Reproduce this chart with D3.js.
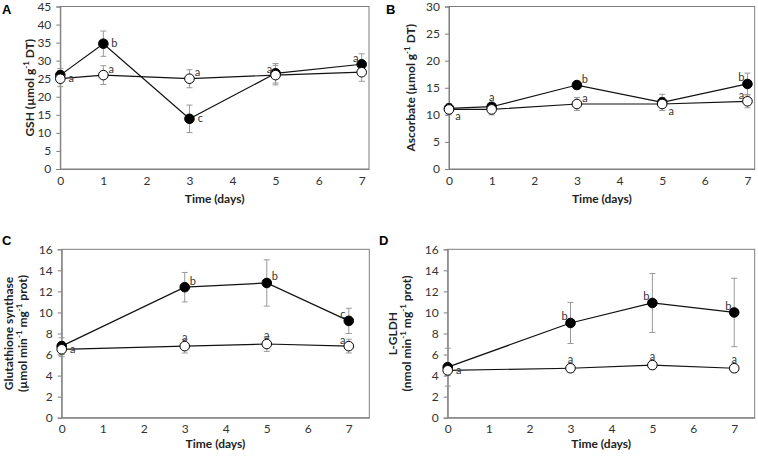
<!DOCTYPE html>
<html><head><meta charset="utf-8">
<script src="https://cdn.jsdelivr.net/npm/d3@7"></script>
<style>
body{margin:0;background:#fff;}
svg{font-family:Lato,"Open Sans",sans-serif;}
</style></head>
<body><svg id="c" width="758" height="456"></svg>
<script>
// ---------- data ----------
const daysAB = [0, 1, 3, 5, 7];
const daysCD = [0, 3, 5, 7];

const gshFilled = [26, 34.7, 13.9, 26.5, 29];
const gshFilledErr = [1.8, 3.5, 3.8, 2.7, 2.9];
const gshOpen = [25, 26, 25, 26, 26.8];
const gshOpenErr = [2.2, 2.6, 2.5, 2.7, 2.5];
const gshFilledLetters = ["", "b", "c", "", "a"];
const gshOpenLetters = ["a", "a", "a", "a", ""];

const ascFilled = [11.2, 11.5, 15.5, 12.3, 15.7];
const ascFilledErr = [0.8, 0.5, 0.6, 1.5, 2.0];
const ascOpen = [11, 11, 12, 12, 12.5];
const ascOpenErr = [1.0, 1.0, 1.2, 1.2, 1.2];
const ascFilledLetters = ["", "a", "b", "", "b"];
const ascOpenLetters = ["a", "", "a", "a", "a"];

const gsFilled = [6.8, 12.4, 12.8, 9.2];
const gsFilledErr = [0.8, 1.4, 2.2, 1.2];
const gsOpen = [6.5, 6.8, 7.0, 6.8];
const gsOpenErr = [0.7, 0.65, 0.7, 0.65];
const gsFilledLetters = ["", "b", "b", "c"];
const gsOpenLetters = ["a", "a", "a", "a"];

const gldhFilled = [4.8, 9.0, 10.9, 10.0];
const gldhFilledErr = [1.8, 1.95, 2.8, 3.25];
const gldhOpen = [4.5, 4.7, 5.0, 4.7];
const gldhOpenErr = [0.5, 0.4, 0.4, 0.4];
const gldhFilledLetters = ["", "b", "b", "b"];
const gldhOpenLetters = ["a", "a", "a", "a"];

const xTicks = [0, 1, 2, 3, 4, 5, 6, 7];
const xLabel = "Time (days)";

// ---------- layout (not data) ----------
const offs = { r:[11,-1], ra:[8,-7], la:[-6,-7], a:[0,-10], rb:[9,6], l:[-10,0] };

const panels = [
  { tag:"A", tagX:2, tagY:14, x0:60.3, x1:369, y0:6.5, y1:169, xMax:7.17, yMax:45, yStep:5,
    days:daysAB, filled:gshFilled, fErr:gshFilledErr, open:gshOpen, oErr:gshOpenErr,
    fLet:gshFilledLetters, oLet:gshOpenLetters,
    fPos:["","r","r","","la"], oPos:["r","ra","ra","la",""],
    ylab:[["GSH (µmol g","-1"," DT)"]], ylabX:[30], xlabY:203 },
  { tag:"B", tagX:386, tagY:14, x0:449, x1:754.7, y0:6.5, y1:169, xMax:7.17, yMax:30, yStep:5,
    days:daysAB, filled:ascFilled, fErr:ascFilledErr, open:ascOpen, oErr:ascOpenErr,
    fLet:ascFilledLetters, oLet:ascOpenLetters,
    fPos:["","a","ra","","la"], oPos:["rb","","ra","rb","la"],
    ylab:[["Ascorbate (µmol g","-1"," DT)"]], ylabX:[411], xlabY:203 },
  { tag:"C", tagX:2, tagY:245, x0:61.7, x1:369.3, y0:249.3, y1:417.7, xMax:7.5, yMax:16, yStep:2,
    days:daysCD, filled:gsFilled, fErr:gsFilledErr, open:gsOpen, oErr:gsOpenErr,
    fLet:gsFilledLetters, oLet:gsOpenLetters,
    fPos:["","ra","ra","la"], oPos:["r","a","a","la"],
    ylab:[["Glutathione synthase"],["(µmol min","-1"," mg","-1"," prot)"]], ylabX:[9,23], xlabY:448 },
  { tag:"D", tagX:379, tagY:245, x0:447.7, x1:754.7, y0:249.3, y1:417.7, xMax:7.5, yMax:16, yStep:2,
    days:daysCD, filled:gldhFilled, fErr:gldhFilledErr, open:gldhOpen, oErr:gldhOpenErr,
    fLet:gldhFilledLetters, oLet:gldhOpenLetters,
    fPos:["","la","la","la"], oPos:["r","a","a","a"],
    ylab:[["L-GLDH"],["(nmol min","-1"," mg","-1"," prot)"]], ylabX:[393,407], xlabY:448 }
];

const svg = d3.select("#c");

panels.forEach(p => {
  const x = d3.scaleLinear().domain([0, p.xMax]).range([p.x0, p.x1]);
  const y = d3.scaleLinear().domain([0, p.yMax]).range([p.y1, p.y0]);
  const g = svg.append("g");

  // frame
  g.append("rect").attr("x", p.x0).attr("y", p.y0).attr("width", p.x1 - p.x0).attr("height", p.y1 - p.y0)
    .attr("fill", "none").attr("stroke", "#7f7f7f").attr("stroke-width", 1);

  // y axis
  const yTicks = d3.range(0, p.yMax + 0.001, p.yStep);
  const ya = g.append("g").attr("transform", `translate(${p.x0},0)`)
    .call(d3.axisLeft(y).tickValues(yTicks).tickSize(4).tickPadding(5).tickFormat(d3.format("d")));
  ya.select(".domain").attr("stroke", "#7f7f7f");
  ya.selectAll("line").attr("stroke", "#7f7f7f");
  ya.selectAll("text").attr("font-size", 12).attr("fill", "#333").attr("font-family", "Lato, sans-serif");

  // x axis
  const xa = g.append("g").attr("transform", `translate(0,${p.y1})`)
    .call(d3.axisBottom(x).tickValues(xTicks).tickSize(0).tickPadding(7).tickFormat(d3.format("d")));
  xa.select(".domain").attr("stroke", "#7f7f7f");
  xa.selectAll("text").attr("font-size", 12).attr("fill", "#333").attr("font-family", "Lato, sans-serif");

  // x label
  g.append("text").attr("x", (p.x0 + p.x1) / 2).attr("y", p.xlabY).attr("text-anchor", "middle")
    .attr("font-size", 12).attr("font-weight", "bold").attr("fill", "#222").text(xLabel);

  // y label(s)
  const yc = (p.y0 + p.y1) / 2;
  p.ylab.forEach((parts, i) => {
    const t = g.append("text").attr("transform", `translate(${p.ylabX[i] + 4},${yc}) rotate(-90)`)
      .attr("text-anchor", "middle")
      .attr("font-size", 12).attr("font-weight", "bold").attr("fill", "#222");
    parts.forEach(s => {
      if (s === "-1") {
        t.append("tspan").attr("baseline-shift", "super").attr("font-size", 8).text(s);
      } else t.append("tspan").text(s);
    });
  });

  // panel tag
  svg.append("text").attr("x", p.tagX).attr("y", p.tagY).attr("font-size", 13).attr("font-weight", "bold")
    .attr("font-family", "Liberation Sans, Arial, sans-serif").text(p.tag);

  const line = d3.line().x((d, i) => x(p.days[i])).y(d => y(d));

  const drawErr = (vals, errs) => {
    vals.forEach((v, i) => {
      const cx = x(p.days[i]);
      const eg = g.append("g").attr("stroke", "#999").attr("stroke-width", 1);
      eg.append("line").attr("x1", cx).attr("x2", cx).attr("y1", y(v - errs[i])).attr("y2", y(v + errs[i]));
      [v - errs[i], v + errs[i]].forEach(e => eg.append("line").attr("x1", cx - 3).attr("x2", cx + 3).attr("y1", y(e)).attr("y2", y(e)));
    });
  };
  drawErr(p.open, p.oErr);
  drawErr(p.filled, p.fErr);

  g.append("path").datum(p.open).attr("d", line).attr("fill", "none").attr("stroke", "#111").attr("stroke-width", 1.2);
  g.append("path").datum(p.filled).attr("d", line).attr("fill", "none").attr("stroke", "#111").attr("stroke-width", 1.2);

  g.selectAll(null).data(p.filled).enter().append("circle")
    .attr("cx", (d, i) => x(p.days[i])).attr("cy", d => y(d)).attr("r", 4.8)
    .attr("fill", "#000").attr("stroke", "#000");
  g.selectAll(null).data(p.open).enter().append("circle")
    .attr("cx", (d, i) => x(p.days[i])).attr("cy", d => y(d)).attr("r", 4.8)
    .attr("fill", "#fff").attr("stroke", "#000").attr("stroke-width", 1);

  const letters = (vals, lets, pos) => {
    vals.forEach((v, i) => {
      if (!lets[i]) return;
      const o = offs[pos[i]];
      g.append("text").attr("x", x(p.days[i]) + o[0]).attr("y", y(v) + o[1])
        .attr("text-anchor", "middle").attr("dominant-baseline", "central")
        .attr("font-size", 11).attr("fill", "#333").text(lets[i]);
    });
  };
  letters(p.filled, p.fLet, p.fPos);
  letters(p.open, p.oLet, p.oPos);
});
</script></body></html>
